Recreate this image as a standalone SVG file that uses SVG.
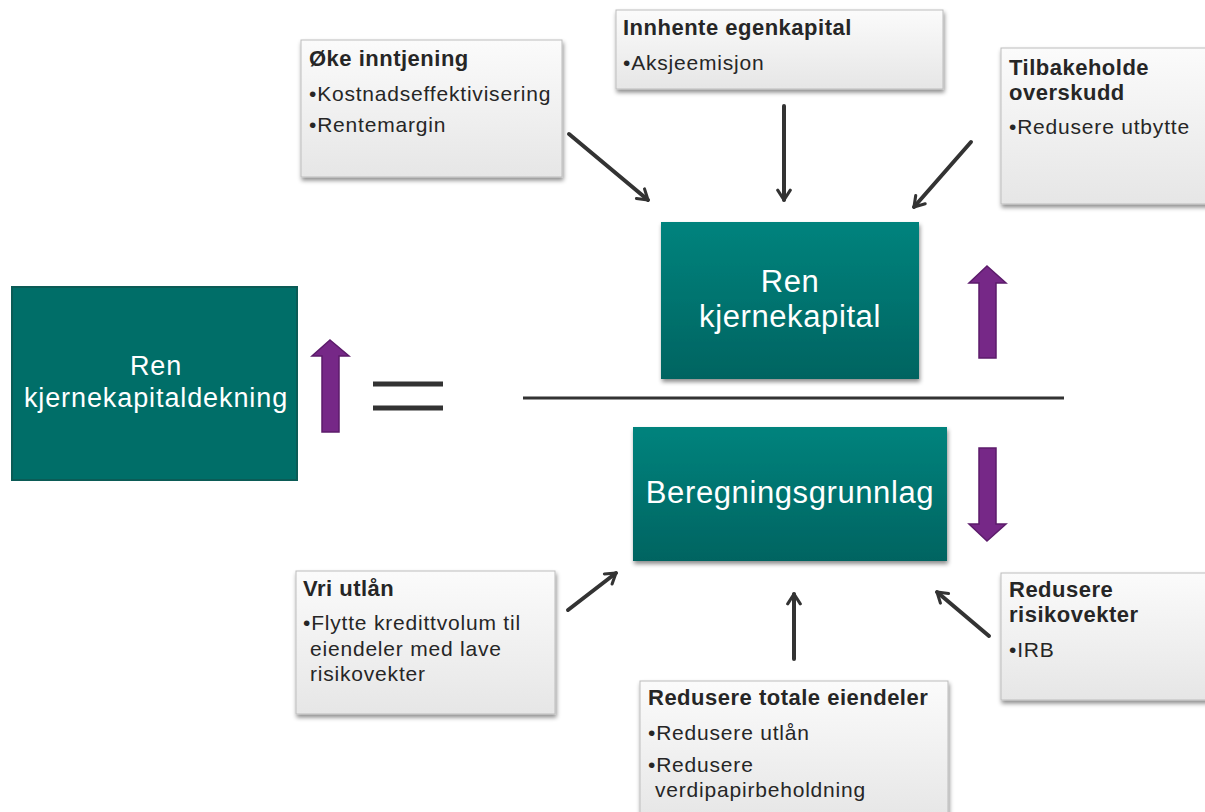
<svg xmlns="http://www.w3.org/2000/svg" width="1205" height="812" viewBox="0 0 1205 812">
<defs>
<linearGradient id="gray" x1="0" y1="0" x2="0" y2="1">
<stop offset="0" stop-color="#fbfbfb"/>
<stop offset="1" stop-color="#e6e6e6"/>
</linearGradient>
<linearGradient id="teal" x1="0" y1="0" x2="0" y2="1">
<stop offset="0" stop-color="#00837d"/>
<stop offset="1" stop-color="#006461"/>
</linearGradient>
<filter id="sh" x="-10%" y="-10%" width="125%" height="130%">
<feDropShadow dx="1" dy="3" stdDeviation="2" flood-color="#000" flood-opacity="0.45"/>
</filter>
<marker id="ah" viewBox="0 0 12 12" refX="9" refY="6" markerWidth="4.2" markerHeight="4.2" orient="auto" markerUnits="strokeWidth">
<path d="M2,1.5 L9,6 L2,10.5" fill="none" stroke="#333" stroke-width="2.2" stroke-linecap="round" stroke-linejoin="round"/>
</marker>
<style>
.gbox{fill:url(#gray);stroke:#bdbdbd;stroke-width:1;filter:url(#sh)}
.tbox{fill:url(#teal);filter:url(#sh)}
.title{font-family:"Liberation Sans",Arial,sans-serif;font-weight:bold;font-size:22px;letter-spacing:0.5px;fill:#262626}
.bul{font-family:"Liberation Sans",Arial,sans-serif;font-size:21px;letter-spacing:0.8px;fill:#262626}
.big{font-family:"Liberation Sans",Arial,sans-serif;fill:#ffffff;text-anchor:middle}
.conn{stroke:#333;stroke-width:4;fill:none;stroke-linecap:round;marker-end:url(#ah)}
.purple{fill:#762887;stroke:#5c1b6b;stroke-width:1.5}
.eq{stroke:#333;stroke-width:5}
</style>
</defs>

<g id="node-oke-inntjening">
<rect class="gbox" x="301" y="40" width="261" height="137"/>
<text class="title" x="309" y="66">Øke inntjening</text>
<text class="bul" x="309" y="101">•Kostnadseffektivisering</text>
<text class="bul" x="309" y="132">•Rentemargin</text>
</g>

<g id="node-innhente-egenkapital">
<rect class="gbox" x="616" y="10" width="327" height="79"/>
<text class="title" x="623" y="35">Innhente egenkapital</text>
<text class="bul" x="623" y="70">•Aksjeemisjon</text>
</g>

<g id="node-tilbakeholde-overskudd">
<rect class="gbox" x="1001" y="48" width="210" height="156"/>
<text class="title" x="1009" y="75">Tilbakeholde</text>
<text class="title" x="1009" y="100">overskudd</text>
<text class="bul" x="1009" y="134">•Redusere utbytte</text>
</g>

<g id="node-ren-kjernekapitaldekning">
<rect x="12" y="287" width="285" height="193" fill="#006e68" stroke="#0b5b56" stroke-width="2"/>
<text class="big" x="156" y="375" font-size="27" letter-spacing="0.9">Ren</text>
<text class="big" x="156" y="407" font-size="27" letter-spacing="0.9">kjernekapitaldekning</text>
</g>

<g id="node-ren-kjernekapital">
<rect class="tbox" x="661" y="222" width="258" height="157"/>
<text class="big" x="790" y="292" font-size="31" letter-spacing="0.6">Ren</text>
<text class="big" x="790" y="327" font-size="31" letter-spacing="0.6">kjernekapital</text>
</g>

<g id="node-beregningsgrunnlag">
<rect class="tbox" x="633" y="427" width="314" height="134"/>
<text class="big" x="790" y="503" font-size="31" letter-spacing="0.6">Beregningsgrunnlag</text>
</g>

<g id="node-vri-utlan">
<rect class="gbox" x="296" y="571" width="259" height="143"/>
<text class="title" x="303" y="596">Vri utlån</text>
<text class="bul" x="303" y="630">•Flytte kredittvolum til</text>
<text class="bul" x="310" y="656">eiendeler med lave</text>
<text class="bul" x="310" y="681">risikovekter</text>
</g>

<g id="node-redusere-totale-eiendeler">
<rect class="gbox" x="640" y="681" width="308" height="140"/>
<text class="title" x="648" y="705">Redusere totale eiendeler</text>
<text class="bul" x="648" y="740">•Redusere utlån</text>
<text class="bul" x="648" y="772">•Redusere</text>
<text class="bul" x="655" y="797">verdipapirbeholdning</text>
</g>

<g id="node-redusere-risikovekter">
<rect class="gbox" x="1001" y="573" width="210" height="127"/>
<text class="title" x="1009" y="597">Redusere</text>
<text class="title" x="1009" y="622">risikovekter</text>
<text class="bul" x="1009" y="657">•IRB</text>
</g>

<g id="symbols">
<path class="purple" d="M330,340 L349,356 L339,356 L339,432 L322,432 L322,356 L312,356 Z"/>
<path class="purple" d="M987,266 L1006,283 L996,283 L996,358 L979,358 L979,283 L969,283 Z"/>
<path class="purple" d="M987,541 L1006,524 L996,524 L996,448 L979,448 L979,524 L969,524 Z"/>
<line class="eq" x1="373" y1="384" x2="443" y2="384"/>
<line class="eq" x1="373" y1="408" x2="443" y2="408"/>
<line x1="523" y1="398" x2="1064" y2="398" stroke="#333" stroke-width="3"/>
</g>

<g id="connectors">
<line class="conn" x1="569" y1="134" x2="648" y2="200"/>
<line class="conn" x1="784" y1="106" x2="784" y2="200"/>
<line class="conn" x1="971" y1="142" x2="914" y2="207"/>
<line class="conn" x1="568" y1="610" x2="616" y2="573"/>
<line class="conn" x1="794" y1="659" x2="794" y2="594"/>
<line class="conn" x1="989" y1="636" x2="937" y2="592"/>
</g>
</svg>
